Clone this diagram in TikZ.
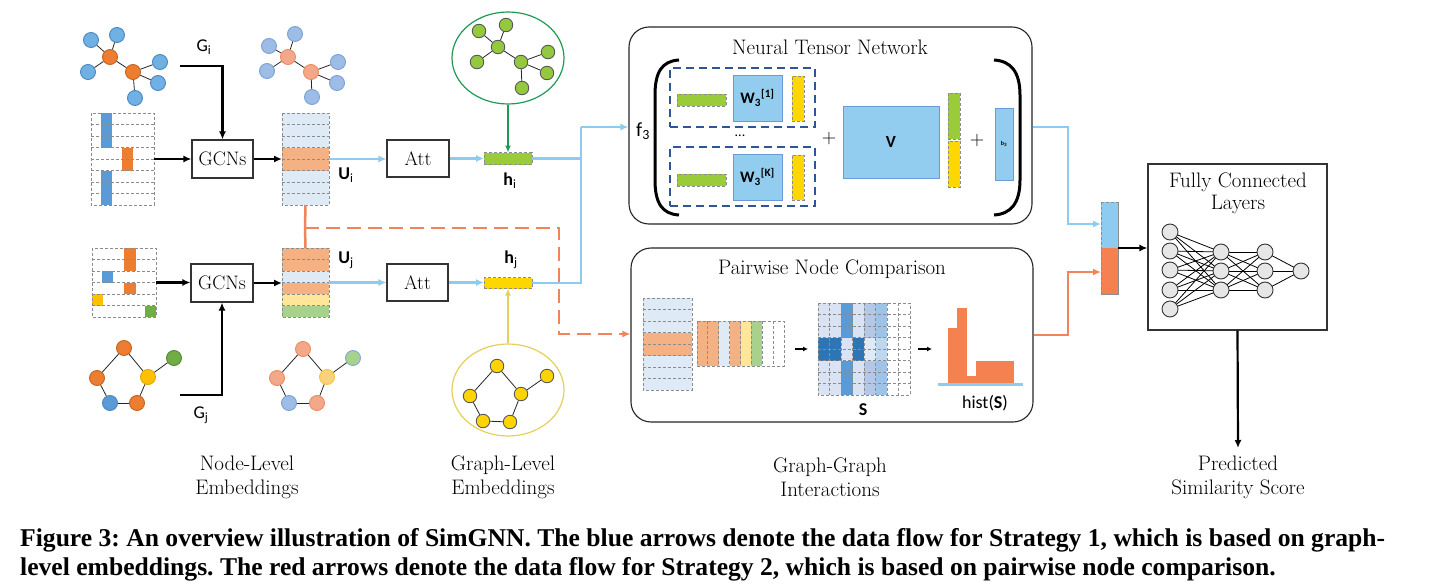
\documentclass[tikz,border=0pt]{standalone}
\usepackage{fontspec}
\setsansfont{Carlito}
\newfontfamily\capfont{Liberation Serif}
\usetikzlibrary{arrows.meta,shapes.geometric,calc}
\definecolor{nblue}{HTML}{6FB1E3}
\definecolor{nblueD}{HTML}{4A86C0}
\definecolor{norange}{HTML}{ED7D31}
\definecolor{norangeD}{HTML}{C5631F}
\definecolor{lblueN}{HTML}{9DBDE6}
\definecolor{lblueND}{HTML}{7BA0D4}
\definecolor{lorangeN}{HTML}{F3A889}
\definecolor{lorangeND}{HTML}{EC8A62}
\definecolor{nyellow}{HTML}{FFC000}
\definecolor{nyellowD}{HTML}{E0A800}
\definecolor{ngreen}{HTML}{70AD47}
\definecolor{ngreenD}{HTML}{548A33}
\definecolor{lyellowN}{HTML}{FBD27A}
\definecolor{lyellowND}{HTML}{F5C242}
\definecolor{lgreenN}{HTML}{A9D18E}
\definecolor{lgreenND}{HTML}{7FA8D8}
\definecolor{ggreen}{HTML}{95C93D}
\definecolor{gyellow}{HTML}{FFD400}
\definecolor{ellgreen}{HTML}{1F9A55}
\definecolor{ellyellow}{HTML}{E6CF5A}
\definecolor{cellblue}{HTML}{DEEBF7}
\definecolor{cellorange}{HTML}{F4B183}
\definecolor{cellyellow}{HTML}{FFE699}
\definecolor{cellgreen}{HTML}{A9D18E}
\definecolor{colblue}{HTML}{5B9BD5}
\definecolor{colorange}{HTML}{ED7D31}
\definecolor{colyellow}{HTML}{FFC000}
\definecolor{colgreen}{HTML}{70AD47}
\definecolor{hgreen}{HTML}{9ACB38}
\definecolor{hyellow}{HTML}{FFD700}
\definecolor{arrblue}{HTML}{8DCBF0}
\definecolor{arrorange}{HTML}{F2845C}
\definecolor{wblue}{HTML}{92CDF0}
\definecolor{wblueD}{HTML}{6B9AD6}
\definecolor{dashblue}{HTML}{2F5597}
\definecolor{historange}{HTML}{F4814F}
\definecolor{gridgray}{HTML}{8C8C8C}
\definecolor{sA}{HTML}{DAE3F3}
\definecolor{sB}{HTML}{5B9BD5}
\definecolor{sC}{HTML}{B4C7E7}
\definecolor{sD}{HTML}{9DC3E6}
\definecolor{sE}{HTML}{2E75B6}
\definecolor{sF}{HTML}{BDD7EE}
\definecolor{fcgray}{HTML}{E7E6E6}
\newcommand\hgridlines[5]{\foreach \k in {1,...,#4}{\draw[grid] (#1,{#3+#5*\k}) -- (#2,{#3+#5*\k});}}
\newcommand\vgridlines[5]{\foreach \k in {1,...,#4}{\draw[grid] ({#1+#5*\k},#2) -- ({#1+#5*\k},#3);}}
\tikzset{
 gn/.style={circle,inner sep=0pt,minimum size=15pt,line width=0.9pt},
 gs/.style={circle,inner sep=0pt,minimum size=13.5pt,line width=0.9pt,draw=black!65},
 ge/.style={line width=0.8pt,draw=black!85},
 lbl/.style={font=\fontsize{21}{24}\selectfont,align=center,inner sep=0pt},
 boxnode/.style={draw=black!80,line width=1.1pt,fill=white,inner sep=0pt,font=\fontsize{19.5}{21}\selectfont},
 area/.style={inner sep=0pt,outer sep=0pt},
 blk/.style={line width=2.2pt,-{Latex[length=8pt,width=7pt]}},
 bla/.style={draw=arrblue,line width=2.2pt,-{Latex[length=8pt,width=7pt]}},
 blline/.style={draw=arrblue,line width=2.2pt},
 ora/.style={draw=arrorange,line width=2.5pt},
 grid/.style={draw=gridgray,line width=1pt,dash pattern=on 3pt off 2pt},
 bar/.style={inner sep=0pt,outer sep=0pt,draw=gridgray,line width=1pt,dash pattern=on 3pt off 2pt},
 sl/.style={font=\sffamily\fontsize{18}{20}\selectfont,inner sep=0pt},
 wbox/.style={draw=wblueD,line width=1pt,fill=wblue,inner sep=0pt,font=\sffamily\bfseries\fontsize{16}{18}\selectfont},
 dbox/.style={draw=dashblue,line width=2.2pt,dash pattern=on 8pt off 5pt,inner sep=0pt},
 fcn/.style={circle,inner sep=0pt,minimum size=16pt,fill=fcgray,draw=black!80,line width=0.9pt},
 ttl/.style={font=\fontsize{21}{23}\selectfont,inner sep=0pt,align=center},
}
\begin{document}
\begin{tikzpicture}[x=1pt,y=-1pt]
\fill[white] (0,0) rectangle (1429,586);
\useasboundingbox (0,0) rectangle (1429,586);

% ---------------- Gi graph ----------------
\foreach \n/\x/\y/\f/\d in {a1/91/40/nblue/nblueD,a2/117/35/nblue/nblueD,a3/110/57/norange/norangeD,a4/88/72/nblue/nblueD,a5/133/72/norange/norangeD,a6/160/62/nblue/nblueD,a7/158/83/nblue/nblueD,a8/135/98/nblue/nblueD}
  {\node[gn,fill=\f,draw=\d] (\n) at (\x,\y) {};}
\foreach \u/\v in {a3/a1,a3/a2,a3/a4,a3/a5,a5/a6,a5/a7,a5/a8} {\draw[ge] (\u) -- (\v);}
% embedded copy
\foreach \n/\x/\y/\f/\d in {b1/269/46/lblueN/lblueND,b2/295/34/lblueN/lblueND,b3/288/57/lorangeN/lorangeND,b4/267/71/lblueN/lblueND,b5/311/72/lorangeN/lorangeND,b6/338/62/lblueN/lblueND,b7/337/83/lblueN/lblueND,b8/312/97/lblueN/lblueND}
  {\node[gn,fill=\f,draw=\d] (\n) at (\x,\y) {};}
\foreach \u/\v in {b3/b1,b3/b2,b3/b4,b3/b5,b5/b6,b5/b7,b5/b8} {\draw[ge] (\u) -- (\v);}

% ---------------- Gj graph ----------------
\foreach \n/\x/\y/\f/\d in {c1/124/348/norange/norangeD,c2/97/378/norange/norangeD,c3/148/377/nyellow/nyellowD,c4/110/403/colblue/nblueD,c5/137/403/norange/norangeD,c6/174/358/ngreen/ngreenD}
  {\node[gn,fill=\f,draw=\d] (\n) at (\x,\y) {};}
\foreach \u/\v in {c1/c2,c1/c3,c2/c4,c4/c5,c5/c3,c3/c6} {\draw[ge] (\u) -- (\v);}
\foreach \n/\x/\y/\f/\d in {d1/303/349/lorangeN/lorangeND,d2/277/378/lorangeN/lorangeND,d3/327/377/lyellowN/lyellowND,d4/289/403/lblueN/lblueND,d5/317/403/lorangeN/lorangeND,d6/353/358/lgreenN/lgreenND}
  {\node[gn,fill=\f,draw=\d] (\n) at (\x,\y) {};}
\foreach \u/\v in {d1/d2,d1/d3,d2/d4,d4/d5,d5/d3,d3/d6} {\draw[ge] (\u) -- (\v);}

% ---------------- graph-level ellipses ----------------
\node[ellipse,draw=ellgreen,line width=1.2pt,minimum width=112pt,minimum height=92pt] (GE) at (508,58) {};
\foreach \n/\x/\y in {g1/479/31,g2/506/25,g3/498/47,g4/477/62,g5/521/62,g6/548/52,g7/547/73,g8/522/88}
  {\node[gs,fill=ggreen] (\n) at (\x,\y) {};}
\foreach \u/\v in {g3/g1,g3/g2,g3/g4,g3/g5,g5/g6,g5/g7,g5/g8} {\draw[ge] (\u) -- (\v);}

\node[ellipse,draw=ellyellow,line width=1.2pt,minimum width=112pt,minimum height=92pt] (YE) at (508,390) {};
\foreach \n/\x/\y in {e1/497/366,e2/470/396,e3/521/394,e4/483/421,e5/510/422,e6/547/376}
  {\node[gs,fill=gyellow] (\n) at (\x,\y) {};}
\foreach \u/\v in {e1/e2,e1/e3,e2/e4,e4/e5,e5/e3,e3/e6} {\draw[ge] (\u) -- (\v);}

% ---------------- feature matrices ----------------
% M1 (features of Gi)
\path node[area,minimum width=63pt,minimum height=92pt] (M1) at (122.5,159) {};
\fill[colblue] (101,113) rectangle (112,147.5);
\fill[colblue] (101,170.5) rectangle (112,205);
\fill[colorange] (122,147.5) rectangle (133,170.5);
\hgridlines{91}{154}{113}{7}{11.5}
\draw[grid] (M1.north west) rectangle (M1.south east);
% M2 (features of Gj)
\path node[area,minimum width=64pt,minimum height=69pt] (M2) at (124,282.5) {};
\fill[colorange] (124,248) rectangle (136,271);
\fill[colblue] (102,271) rectangle (113,282.5);
\fill[colorange] (124,282.5) rectangle (136,294);
\fill[colyellow] (92,294) rectangle (103,305.5);
\fill[colgreen] (145,305.5) rectangle (156,317);
\hgridlines{92}{156}{248}{5}{11.5}
\draw[grid] (M2.north west) rectangle (M2.south east);

% GCN boxes
\node[boxnode,minimum width=61pt,minimum height=38pt] (GCN1) at (222.5,159) {GCNs};
\node[boxnode,minimum width=62pt,minimum height=38pt] (GCN2) at (222,283) {GCNs};

% Node embeddings Ui, Uj
\path node[area,minimum width=47pt,minimum height=92pt] (E1) at (305.5,159) {};
\fill[cellblue] (282,113) rectangle (329,205);
\fill[cellorange] (282,147.5) rectangle (329,170.5);
\hgridlines{282}{329}{113}{7}{11.5}
\draw[grid] (E1.north west) rectangle (E1.south east);
\path node[area,minimum width=47pt,minimum height=69pt] (E2) at (305.5,282.5) {};
\foreach \r/\col in {0/cellorange,1/cellorange,2/cellblue,3/cellorange,4/cellyellow,5/cellgreen}
  {\fill[\col] (282,{248+11.5*\r}) rectangle (329,{248+11.5*(\r+1)});}
\hgridlines{282}{329}{248}{5}{11.5}
\draw[grid] (E2.north west) rectangle (E2.south east);

\node[sl] (lUi) at (346,175) {\textbf{U}\textsubscript{i}};
\node[sl] (lUj) at (346,260) {\textbf{U}\textsubscript{j}};
\node[font=\sffamily\fontsize{18}{20}\selectfont,inner sep=0pt] (lGi) at (204,47) {G\textsubscript{i}};
\node[font=\sffamily\fontsize{18}{20}\selectfont,inner sep=0pt] (lGj) at (201,415) {G\textsubscript{j}};

% Att boxes
\node[boxnode,minimum width=62pt,minimum height=37pt] (Att1) at (418,158.5) {Att};
\node[boxnode,minimum width=61pt,minimum height=37pt] (Att2) at (417.5,282.5) {Att};

% graph embeddings
\node[bar,fill=hgreen,minimum width=48pt,minimum height=12pt] (hi) at (508,158.5) {};
\node[bar,fill=hyellow,minimum width=48pt,minimum height=11pt] (hj) at (508,283) {};
\node[sl] (lhi) at (510,181) {\textbf{h}\textsubscript{i}};
\node[sl] (lhj) at (511,260) {\textbf{h}\textsubscript{j}};

% ---------------- arrows left part ----------------
\coordinate (gis) at (180,66);
\coordinate (gjs) at (180,395);
\draw[blk] (M1.east) -- (GCN1.west);
\draw[blk] (GCN1.east) -- (E1.west);
\draw[blk] (gis) -| (GCN1.north);
\draw[blk] (M2.east) -- (M2.east -| GCN2.west);
\draw[blk] (GCN2.east) -- (GCN2.east -| E2.west);
\draw[blk] (gjs) -| (GCN2.south);

\draw[bla] (E1.east) -- (E1.east -| Att1.west);
\draw[bla] (Att1.east) -- (Att1.east -| hi.west);
\draw[bla] (E2.east) -- (E2.east -| Att2.west);
\draw[bla] (Att2.east) -- (Att2.east -| hj.west);
\draw[draw=ellgreen,line width=2pt,-{Latex[length=7pt,width=6pt]}] (GE.south) -- (hi.north);
\draw[draw=ellyellow,line width=2pt,-{Latex[length=7pt,width=6pt]}] (YE.north) -- (hj.south);

% ---------------- NTN box ----------------
\node[draw=black!85,line width=1.1pt,rounded corners=20pt,minimum width=403pt,minimum height=197pt,inner sep=0pt] (NTN) at (830.5,125.5) {};
\node[ttl] (tNTN) at (830,47) {Neural Tensor Network};
\node[font=\sffamily\fontsize{20}{22}\selectfont,inner sep=0pt] (lf3) at (643,131) {f\textsubscript{3}};
\draw[line width=3pt] (679,60) .. controls (662,61) and (655,72) .. (655,95) -- (655,180) .. controls (655,203) and (662,214) .. (679,215);
\draw[line width=3pt] (994,60) .. controls (1011,61) and (1020,72) .. (1020,95) -- (1020,180) .. controls (1020,203) and (1011,214) .. (994,215);

\node[dbox,minimum width=145pt,minimum height=59pt] (D1) at (742.5,97.5) {};
\node[dbox,minimum width=145pt,minimum height=59pt] (D2) at (742.5,176.5) {};
\node[bar,fill=hgreen,minimum width=49pt,minimum height=12pt] (G1) at (701.5,100) {};
\node[bar,fill=hgreen,minimum width=49pt,minimum height=12pt] (G2) at (701.5,180) {};
\node[wbox,minimum width=49pt,minimum height=46pt] (W1) at (757.5,98) {W\textsubscript{3}\textsuperscript{[1]}};
\node[wbox,minimum width=49pt,minimum height=46pt] (W2) at (757.5,177) {W\textsubscript{3}\textsuperscript{[K]}};
\node[bar,fill=hyellow,minimum width=12pt,minimum height=45pt] (Y1) at (798,98.5) {};
\node[bar,fill=hyellow,minimum width=12pt,minimum height=45pt] (Y2) at (798,177.5) {};
\node[font=\sffamily\fontsize{14}{15}\selectfont,inner sep=0pt] (dots) at (740,136) {...};
\node[font=\fontsize{20}{22}\selectfont,inner sep=0pt] (plus1) at (829,139) {+};
\node[wbox,minimum width=96pt,minimum height=72pt,font=\sffamily\bfseries\fontsize{17}{18}\selectfont] (Vb) at (891,142) {V};
\node[bar,fill=hgreen,minimum width=12pt,minimum height=46pt] (CG) at (954,116) {};
\node[bar,fill=hyellow,minimum width=12pt,minimum height=46pt] (CY) at (954,164) {};
\node[font=\fontsize{20}{22}\selectfont,inner sep=0pt] (plus2) at (977,141) {+};
\node[wbox,minimum width=18pt,minimum height=72pt,font=\sffamily\bfseries\fontsize{6}{7}\selectfont] (B3) at (1004,144) {b\textsubscript{3}};

% ---------------- Pairwise box ----------------
\node[draw=black!85,line width=1.1pt,rounded corners=20pt,minimum width=402pt,minimum height=174pt,inner sep=0pt] (PNC) at (832,335) {};
\node[ttl] (tPNC) at (832,269) {Pairwise Node Comparison};

\path node[area,minimum width=49pt,minimum height=92pt] (P1) at (667.5,344) {};
\fill[cellblue] (643,298) rectangle (692,390);
\fill[cellorange] (643,332.5) rectangle (692,355.5);
\hgridlines{643}{692}{298}{7}{11.5}
\draw[grid] (P1.north west) rectangle (P1.south east);

\path node[area,minimum width=87pt,minimum height=45pt] (P2) at (740.5,343.5) {};
\foreach \c/\col in {0/cellorange,1/cellorange,2/cellblue,3/cellorange,4/cellyellow,5/cellgreen,6/white,7/white}
  {\fill[\col] ({697+10.875*\c},321) rectangle ({697+10.875*(\c+1)},366);}
\vgridlines{697}{321}{366}{7}{10.875}
\draw[grid] (P2.north west) rectangle (P2.south east);

\path node[area,minimum width=92pt,minimum height=92pt] (S) at (864,349) {};
\foreach \c/\col in {0/sA,1/sA,2/sB,3/sA,4/sC,5/sD,6/white,7/white}
  {\fill[\col] ({818+11.5*\c},303) rectangle ({818+11.5*(\c+1)},395);}
\foreach \c/\col in {0/sE,1/sE,2/sA,3/sE,4/cellblue,5/sF,6/white,7/white}
  {\fill[\col] ({818+11.5*\c},337.5) rectangle ({818+11.5*(\c+1)},360.5);}
\hgridlines{818}{910}{303}{7}{11.5}
\vgridlines{818}{303}{395}{7}{11.5}
\draw[grid] (S.north west) rectangle (S.south east);
\node[font=\sffamily\bfseries\fontsize{18}{20}\selectfont,inner sep=0pt] (lS) at (863,410) {S};

\path node[area,minimum width=85pt,minimum height=76pt] (H) at (980.5,346) {};
\fill[historange] (948,328) rectangle (957,383);
\fill[historange] (957,308) rectangle (967,383);
\fill[historange] (967,376) rectangle (976,383);
\fill[historange] (976,361) rectangle (1014,383);
\draw[arrblue,line width=3pt] (H.west |- 0,384) -- (H.east |- 0,384);
\node[sl] (lhist) at (985,403) {hist(\textbf{S})};

\draw[line width=2pt,-{Latex[length=5pt,width=5pt]},shorten <=11pt,shorten >=10pt] (P2.east |- S.west) -- (S.west);
\draw[line width=2pt,-{Latex[length=5pt,width=5pt]},shorten <=8pt,shorten >=6pt] (S.east) -- (S.east -| H.west);

% ---------------- strategy flows ----------------
\coordinate (jn) at (581,127);
\draw[blline] (hi.east) -| (jn);
\draw[blline] (hj.east) -| (jn);
\draw[bla] (jn) -- (jn -| NTN.west);

\coordinate (ob) at (305,228);
\coordinate (oc) at (559,334);
\draw[ora] (E1.south) -- (ob);
\draw[ora] (E2.north) -- (ob);
\draw[ora,dash pattern=on 14pt off 7pt,-{Latex[length=8pt,width=7pt]}] (ob) -| (oc) -- (oc -| PNC.west);

% concatenation and FC
\node[bar,minimum width=17pt,minimum height=92pt] (cat) at (1109.5,248) {};
\fill[arrblue] (1101,202) rectangle (1118,248);
\fill[historange] (1101,248) rectangle (1118,294);
\draw[grid] (cat.north west) rectangle (cat.south east);

\coordinate (jr) at (1068,127);
\coordinate (jo) at (1068,335);
\draw[bla] (NTN.east |- jr) -- (jr) |- ($(cat.west)+(0,-24)$);
\draw[ora,-{Latex[length=8pt,width=7pt]}] (PNC.east |- jo) -- (jo) |- ($(cat.west)+(0,24)$);

\node[draw=black!80,line width=1.1pt,minimum width=179pt,minimum height=166pt,inner sep=0pt] (FC) at (1237.5,247) {};
\node[font=\fontsize{21}{22}\selectfont,align=center,inner sep=0pt] (tFC) at (1238,193) {Fully Connected\\Layers};
\draw[blk] (cat.east) -- (cat.east -| FC.west);

\foreach \i/\y in {1/232,2/251,3/270,4/290,5/309} {\coordinate (l1\i) at (1170,\y);}
\foreach \i/\y in {1/252,2/271,3/290} {\coordinate (l2\i) at (1221,\y); \coordinate (l3\i) at (1265,\y);}
\coordinate (lo) at (1301,271);
\foreach \i in {1,...,5}{\foreach \j in {1,2,3}{\draw[line width=0.8pt] (l1\i) -- (l2\j);}}
\foreach \i in {1,2,3}{\foreach \j in {1,2,3}{\draw[line width=0.8pt] (l2\i) -- (l3\j);}}
\foreach \i in {1,2,3}{\draw[line width=0.8pt] (l3\i) -- (lo);}
\foreach \i in {1,...,5}{\node[fcn] (n1\i) at (l1\i) {};}
\foreach \i in {1,2,3}{\node[fcn] (n2\i) at (l2\i) {}; \node[fcn] (n3\i) at (l3\i) {};}
\node[fcn] (nout) at (lo) {};

\coordinate (pr) at (1238,448);
\draw[blk] (FC.south) -- (pr);

% ---------------- bottom labels ----------------
\node[lbl] (lab1) at (247,477) {Node-Level\\Embeddings};
\node[lbl] (lab2) at (503,477) {Graph-Level\\Embeddings};
\node[lbl] (lab3) at (830,477) {Graph-Graph\\Interactions};
\node[lbl] (lab4) at (1238,477) {Predicted\\Similarity Score};

% ---------------- caption ----------------
\node[anchor=base west,inner sep=0pt] (cap1) at (20,546) {\capfont\bfseries\fontsize{25.6}{29}\selectfont\frenchspacing\makebox[1365pt][s]{Figure 3: An overview illustration of SimGNN. The blue arrows denote the data flow for Strategy 1, which is based on graph-}};
\node[anchor=base west,inner sep=0pt] (cap2) at (20,575) {\capfont\bfseries\fontsize{25.6}{29}\selectfont\frenchspacing level embeddings. The red arrows denote the data flow for Strategy 2, which is based on pairwise node comparison.};
\end{tikzpicture}
\end{document}
